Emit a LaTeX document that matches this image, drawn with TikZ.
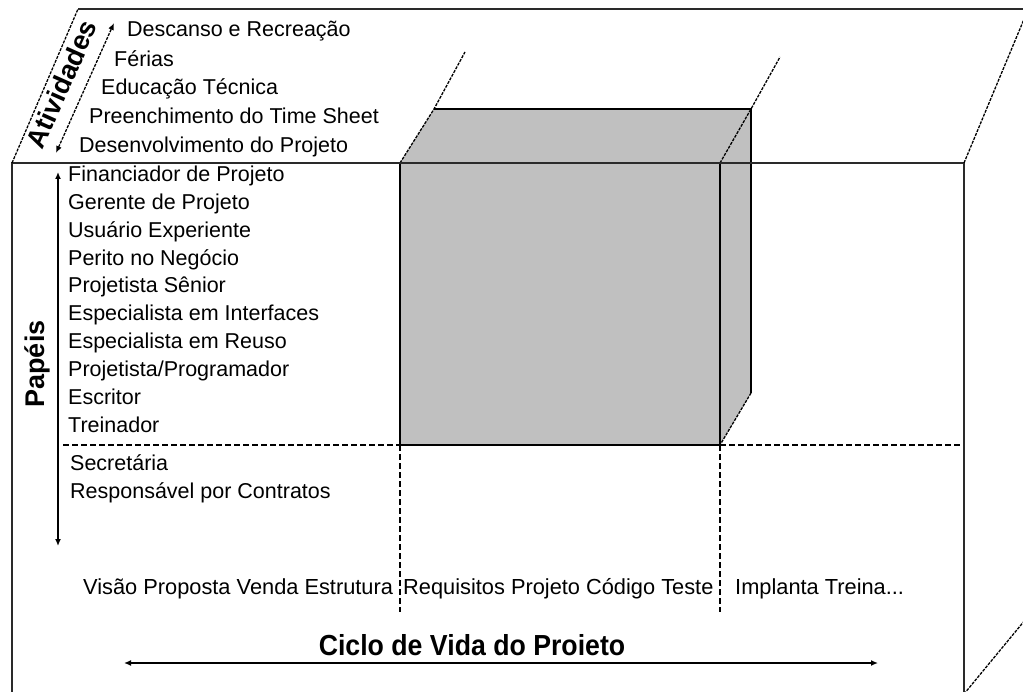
\documentclass[tikz,border=0pt]{standalone}
\usepackage{fontspec}
\setmainfont{Liberation Sans}
\usetikzlibrary{arrows.meta}
\definecolor{boxgray}{HTML}{C0C0C0}
\definecolor{frame}{HTML}{2A2A2A}
\tikzset{
  framel/.style={draw=frame, line width=1.8pt},
  boxl/.style={draw=black, line width=1.5pt},
  slant/.style={draw=black, line width=1.3pt, dash pattern=on 3pt off 1.2pt},
  grid/.style={draw=black, line width=1.4pt, dash pattern=on 6pt off 3pt},
  lbl/.style={anchor=base west, inner sep=0pt, font=\fontsize{21.5}{24}\selectfont},
  lblb/.style={anchor=base west, inner sep=0pt, font=\fontsize{21.8}{24}\selectfont},
  bold/.style={inner sep=0pt, font=\fontsize{27}{30}\selectfont\bfseries},
  dbl/.style={draw=black, line width=1.3pt, {Latex[length=7pt,width=6pt]}-{Latex[length=7pt,width=6pt]}},
}
\begin{document}
\begin{tikzpicture}[x=1pt,y=-1pt]
\useasboundingbox (0,0) rectangle (1023,692);
\begin{scope}
\clip (0,0) rectangle (1023,692);
% cube corners
\coordinate (FTL) at (12,163);
\coordinate (FTR) at (964,163);
\coordinate (FBL) at (12,700);
\coordinate (FBR) at (964,700);
\coordinate (TTL) at (78,9);
\coordinate (TTR) at (1030,9);
\coordinate (RTR) at (1027,12);
\coordinate (BRD) at (1030,614);
% gray box
\coordinate (G1) at (400,163);
\coordinate (G2) at (720,163);
\coordinate (G3) at (720,445);
\coordinate (G4) at (400,445);
\coordinate (G5) at (434,109);
\coordinate (G6) at (751,109);
\coordinate (G7) at (751,393);
\coordinate (E1) at (465,52);
\coordinate (E2) at (780,57);
\fill[boxgray] (G1) -- (G5) -- (G6) -- (G7) -- (G3) -- (G4) -- cycle;
% dashed grid
\coordinate (H1) at (63,445);
\coordinate (H2) at (964,445);
\coordinate (V1) at (400,612);
\coordinate (V2) at (720,612);
\draw[grid] (H1) -- (H2);
\draw[grid] (G4) -- (V1);
\draw[grid] (G3) -- (V2);
% gray box edges
\draw[boxl] (G1) -- (G2) -- (G3) -- (G4) -- cycle;
\draw[boxl] (G5) -- (G6) -- (G7);
\draw[slant] (G1) -- (G5) -- (E1);
\draw[slant] (G2) -- (G6) -- (E2);
\draw[slant] (G7) -- (G3);
% cube frame
\draw[framel] (FBL) -- (FTL) -- (FTR) -- (FBR);
\draw[framel] (TTL) -- (TTR);
\draw[slant] (FTL) -- (TTL);
\draw[slant] (FTR) -- (RTR);
\draw[slant] (964,694) -- (BRD);
\end{scope}
% Activities
\node[bold, rotate=66] (ativ) at (61.5,84) {Atividades};
\coordinate (A1) at (56,153);
\coordinate (A2) at (114,23);
\draw[dbl, dash pattern=on 3pt off 1.2pt] (A1) -- (A2);
\node[lbl] (a1) at (127,37) {Descanso e Recreação};
\node[lbl] (a2) at (114,67) {Férias};
\node[lbl] (a3) at (101,95) {Educação Técnica};
\node[lbl] (a4) at (89,124) {Preenchimento do Time Sheet};
\node[lbl] (a5) at (79,153) {Desenvolvimento do Projeto};
% Roles
\node[bold, rotate=90, anchor=base] (pap) at (44,364) {Papéis};
\coordinate (P1) at (58,172);
\coordinate (P2) at (58,546);
\draw[dbl] (P1) -- (P2);
\node[lbl] (r1) at (68,182) {Financiador de Projeto};
\node[lbl] (r2) at (68,210) {Gerente de Projeto};
\node[lbl] (r3) at (68,238) {Usuário Experiente};
\node[lbl] (r4) at (68,265.5) {Perito no Negócio};
\node[lbl] (r5) at (68,293) {Projetista Sênior};
\node[lbl] (r6) at (68,321) {Especialista em Interfaces};
\node[lbl] (r7) at (68,349) {Especialista em Reuso};
\node[lbl] (r8) at (68,377) {Projetista/Programador};
\node[lbl] (r9) at (68,404.5) {Escritor};
\node[lbl] (r10) at (68,432) {Treinador};
\node[lbl] (r11) at (70,470) {Secretária};
\node[lbl] (r12) at (70,498) {Responsável por Contratos};
% Life cycle
\node[lblb] (p1) at (83,594) {Visão Proposta Venda Estrutura};
\node[lblb] (p2) at (403,594) {Requisitos Projeto Código Teste};
\node[lblb] (p3) at (735,594) {Implanta Treina...};
\node[inner sep=0pt, anchor=base, font=\fontsize{29}{32}\selectfont\bfseries] (ciclo) at (472,655) {\scalebox{0.92}[1]{Ciclo de Vida do Proieto}};
\coordinate (L1) at (124,663);
\coordinate (L2) at (878,663);
\draw[dbl] (L1) -- (L2);
\end{tikzpicture}
\end{document}
